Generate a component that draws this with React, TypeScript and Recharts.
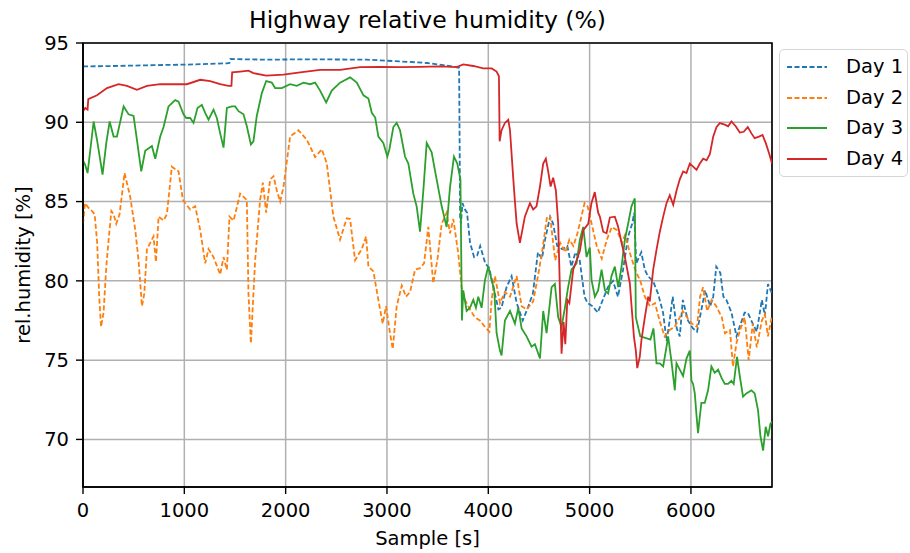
import React from "react";
import { LineChart, Line, XAxis, YAxis, CartesianGrid, ReferenceArea } from "recharts";

// [sample (s), relative humidity (%)]
const day1: number[][] = [
  [0, 93.52], [300, 93.55], [700, 93.6], [1100, 93.65], [1420, 93.72], [1445, 93.74], [1455, 93.99],
  [1800, 93.95], [2200, 93.97], [2800, 93.95], [3129, 93.84], [3392, 93.74], [3556, 93.6], [3655, 93.52],
  [3712, 93.43], [3722, 84.0], [3730, 83.6], [3745, 84.9], [3770, 84.5], [3790, 84.3], [3820, 82.4],
  [3860, 81.5], [3890, 81.6], [3920, 82.2], [3970, 81.1], [4010, 80.8], [4050, 79.6], [4100, 78.2],
  [4130, 78.3], [4180, 79.6], [4230, 80.3], [4280, 78.6], [4340, 77.5], [4390, 78.3], [4440, 79.2],
  [4490, 81.8], [4530, 81.4], [4560, 82.6], [4610, 84.05], [4640, 83.6], [4680, 82.2], [4730, 82.0],
  [4780, 82.2], [4820, 80.9], [4860, 81.8], [4900, 81.4], [4950, 79.0], [4980, 78.6], [5030, 78.4],
  [5080, 78.0], [5130, 78.8], [5180, 79.6], [5230, 80.0], [5280, 79.0], [5330, 80.7], [5380, 82.8],
  [5420, 83.6], [5440, 84.3], [5460, 81.1], [5510, 81.8], [5545, 80.7], [5575, 80.3], [5625, 80.0],
  [5675, 79.2], [5725, 78.0], [5760, 76.2], [5790, 77.5], [5820, 79.0], [5860, 77.0], [5890, 76.5],
  [5920, 78.8], [5970, 77.5], [6020, 77.0], [6060, 76.8], [6110, 78.4], [6140, 79.4], [6190, 78.4],
  [6220, 79.0], [6250, 80.9], [6290, 80.5], [6320, 79.0], [6350, 78.8], [6400, 78.0], [6450, 76.5],
  [6480, 77.1], [6530, 78.0], [6560, 78.0], [6610, 77.3], [6650, 76.8], [6700, 78.8], [6730, 77.8],
  [6760, 79.8], [6800, 79.2],
];

const day2: number[][] = [
  [0, 83.6], [20, 84.9], [55, 84.6], [90, 84.4], [115, 84.2], [140, 82.4], [160, 79.0], [178, 77.1],
  [203, 78.0], [230, 80.9], [253, 82.6], [280, 84.4], [302, 84.2], [328, 83.6], [361, 84.2], [410, 86.8],
  [466, 85.3], [516, 83.2], [548, 81.3], [582, 78.4], [605, 79.2], [631, 82.0], [664, 82.4], [696, 82.8],
  [720, 81.2], [746, 84.05], [795, 83.8], [828, 84.2], [877, 87.2], [943, 86.9], [986, 85.1], [1058, 84.5],
  [1107, 84.7], [1157, 83.2], [1206, 81.1], [1239, 82.0], [1288, 81.5], [1354, 80.4], [1387, 81.5],
  [1420, 80.7], [1446, 84.05], [1486, 83.8], [1551, 85.5], [1617, 85.1], [1633, 79.2], [1657, 76.06],
  [1699, 81.3], [1748, 85.1], [1775, 86.2], [1808, 84.3], [1847, 86.4], [1880, 86.6], [1913, 85.7],
  [1946, 85.0], [1978, 85.9], [2044, 89.1], [2126, 89.5], [2209, 88.9], [2291, 87.8], [2357, 88.3],
  [2406, 87.4], [2471, 84.05], [2537, 82.6], [2603, 83.95], [2636, 83.9], [2685, 81.3], [2751, 82.0],
  [2794, 82.8], [2817, 80.9], [2866, 80.6], [2915, 78.8], [2958, 77.3], [2991, 78.4], [3030, 76.7],
  [3057, 75.7], [3096, 78.4], [3146, 79.7], [3188, 79.0], [3228, 79.3], [3277, 80.7], [3326, 80.8],
  [3366, 81.1], [3408, 83.4], [3457, 79.85], [3497, 81.3], [3540, 83.6], [3589, 84.3], [3622, 83.0],
  [3655, 83.9], [3704, 81.7], [3737, 79.6], [3770, 78.8], [3819, 78.2], [3868, 77.7], [3917, 77.5],
  [3967, 77.1], [4010, 76.8], [4033, 78.8], [4066, 80.3], [4115, 78.6], [4164, 79.3], [4214, 79.0],
  [4280, 80.3], [4329, 78.4], [4378, 78.2], [4443, 78.7], [4490, 80.3], [4530, 81.8], [4580, 84.05],
  [4610, 84.05], [4660, 81.3], [4710, 82.4], [4760, 81.8], [4800, 82.6], [4840, 82.2], [4880, 83.0],
  [4950, 84.9], [4980, 84.7], [5020, 83.6], [5070, 82.2], [5120, 81.4], [5170, 82.6], [5220, 83.4],
  [5270, 83.2], [5320, 82.4], [5350, 82.9], [5400, 81.7], [5450, 80.7], [5500, 80.0], [5545, 79.0],
  [5595, 78.4], [5645, 78.6], [5690, 77.5], [5740, 76.5], [5790, 76.9], [5840, 77.1], [5890, 77.7],
  [5920, 78.1], [5960, 77.7], [6010, 77.3], [6060, 77.1], [6090, 79.0], [6120, 79.6], [6160, 78.1],
  [6205, 78.8], [6250, 78.4], [6305, 77.7], [6335, 76.7], [6385, 76.9], [6415, 74.6], [6450, 76.1],
  [6485, 76.9], [6530, 77.7], [6570, 75.0], [6610, 77.3], [6650, 75.8], [6700, 77.5], [6730, 77.9],
  [6760, 76.5], [6800, 77.8],
];

const day3: number[][] = [
  [0, 87.6], [22, 87.3], [45, 86.8], [105, 90.05], [138, 88.9], [193, 86.7], [230, 88.7], [263, 90.05],
  [302, 89.1], [335, 89.1], [401, 91.0], [450, 90.5], [499, 90.4], [532, 88.9], [575, 86.9], [614, 88.2],
  [680, 88.5], [713, 87.7], [762, 89.1], [795, 89.7], [844, 91.0], [910, 91.4], [943, 91.3], [992, 90.5],
  [1019, 90.27], [1058, 90.27], [1091, 89.96], [1130, 90.9], [1173, 91.1], [1206, 90.6], [1239, 90.16],
  [1288, 90.8], [1321, 90.27], [1354, 89.3], [1387, 88.4], [1420, 90.9], [1469, 91.0], [1502, 91.0],
  [1535, 90.7], [1584, 90.5], [1617, 89.75], [1657, 88.6], [1682, 88.8], [1715, 90.4], [1765, 91.84],
  [1808, 92.6], [1863, 92.5], [1896, 92.16], [1962, 92.16], [2044, 92.4], [2110, 92.3], [2176, 92.5],
  [2242, 92.4], [2291, 92.5], [2340, 92.0], [2400, 91.25], [2455, 92.0], [2537, 92.5], [2636, 92.83],
  [2702, 92.5], [2768, 91.7], [2817, 91.5], [2850, 90.6], [2884, 90.3], [2915, 89.1], [2964, 88.7],
  [3004, 87.84], [3024, 88.3], [3063, 89.7], [3096, 89.96], [3129, 89.5], [3178, 87.84], [3211, 87.4],
  [3260, 85.5], [3293, 84.7], [3326, 83.1], [3359, 85.7], [3392, 88.7], [3441, 88.1], [3490, 86.4],
  [3540, 84.7], [3589, 83.4], [3622, 85.9], [3661, 87.84], [3694, 87.4], [3725, 86.4], [3740, 77.5],
  [3753, 79.4], [3786, 78.1], [3819, 78.3], [3852, 78.8], [3878, 78.3], [3901, 79.0], [3934, 78.3],
  [3967, 80.05], [3999, 80.9], [4033, 80.05], [4059, 79.4], [4082, 76.7], [4115, 75.6], [4131, 75.3],
  [4164, 77.5], [4214, 78.1], [4263, 77.3], [4296, 78.3], [4329, 77.0], [4378, 76.5], [4427, 75.85],
  [4460, 76.0], [4510, 75.1], [4542, 78.1], [4575, 76.7], [4625, 79.6], [4657, 79.8], [4690, 77.7],
  [4723, 77.1], [4756, 78.3], [4788, 79.6], [4821, 80.7], [4871, 81.1], [4904, 82.6], [4937, 83.4],
  [4970, 81.5], [5002, 82.1], [5019, 80.05], [5052, 79.0], [5084, 79.4], [5118, 80.7], [5151, 79.4],
  [5183, 79.2], [5216, 80.3], [5249, 80.9], [5282, 79.6], [5315, 80.9], [5348, 82.6], [5380, 83.6],
  [5413, 84.7], [5446, 85.2], [5456, 77.7], [5500, 76.5], [5550, 76.4], [5600, 76.3], [5630, 77.0],
  [5660, 74.8], [5693, 74.8], [5726, 74.6], [5759, 75.85], [5775, 76.5], [5808, 74.9], [5841, 73.1],
  [5857, 74.8], [5890, 74.4], [5922, 74.0], [5956, 75.1], [5989, 75.6], [6005, 73.7], [6021, 73.5],
  [6038, 72.9], [6054, 71.6], [6070, 70.4], [6087, 71.4], [6103, 72.3], [6136, 72.3], [6169, 73.1],
  [6202, 74.6], [6235, 74.2], [6268, 74.4], [6301, 73.9], [6334, 73.5], [6366, 73.5], [6399, 73.7],
  [6422, 73.5], [6455, 75.2], [6482, 74.0], [6514, 72.7], [6547, 72.9], [6597, 73.1], [6629, 72.9],
  [6662, 71.85], [6686, 70.2], [6712, 69.3], [6738, 70.8], [6761, 70.2], [6785, 71.0], [6800, 71.1],
];

const day4: number[][] = [
  [0, 90.7], [22, 90.9], [45, 90.8], [52, 91.46], [138, 91.7], [237, 92.16], [351, 92.4], [434, 92.3],
  [532, 92.05], [631, 92.3], [762, 92.4], [893, 92.4], [1025, 92.4], [1157, 92.68], [1255, 92.6],
  [1354, 92.4], [1436, 92.3], [1465, 92.3], [1472, 93.15], [1551, 93.2], [1633, 93.26], [1682, 93.1],
  [1808, 92.94], [1978, 93.0], [2143, 93.15], [2340, 93.3], [2537, 93.3], [2735, 93.48], [2932, 93.5],
  [3129, 93.48], [3326, 93.5], [3524, 93.53], [3688, 93.48], [3753, 93.65], [3852, 93.55], [3950, 93.4],
  [4033, 93.4], [4082, 93.2], [4105, 92.9], [4112, 88.8], [4131, 89.5], [4164, 89.96], [4197, 90.16],
  [4214, 89.5], [4247, 86.4], [4263, 85.0], [4280, 83.6], [4312, 82.4], [4361, 84.05], [4411, 84.9],
  [4443, 84.5], [4476, 84.7], [4510, 85.95], [4542, 87.4], [4568, 87.7], [4591, 86.9], [4615, 85.95],
  [4640, 86.5], [4667, 85.7], [4690, 83.6], [4710, 78.6], [4723, 75.4], [4743, 77.4], [4760, 76.0],
  [4780, 78.8], [4800, 78.6], [4838, 80.7], [4871, 81.3], [4904, 81.9], [4937, 83.2], [4986, 83.6],
  [5018, 84.9], [5051, 85.6], [5084, 84.3], [5101, 84.05], [5134, 83.1], [5167, 83.0], [5200, 84.0],
  [5249, 84.05], [5282, 83.4], [5315, 82.4], [5348, 81.5], [5397, 79.85], [5414, 78.4], [5437, 76.5],
  [5456, 75.6], [5470, 74.5], [5495, 75.2], [5512, 76.3], [5545, 77.7], [5578, 79.0], [5594, 78.7],
  [5627, 80.7], [5660, 81.95], [5693, 83.1], [5726, 84.05], [5759, 84.9], [5791, 85.4], [5825, 84.8],
  [5858, 85.7], [5890, 86.4], [5923, 86.9], [5956, 86.8], [5989, 87.4], [6022, 87.2], [6055, 87.0],
  [6088, 87.4], [6121, 87.7], [6154, 87.6], [6187, 88.0], [6220, 89.1], [6253, 89.7], [6285, 89.95],
  [6334, 89.85], [6367, 89.75], [6400, 90.05], [6442, 89.75], [6482, 89.35], [6521, 89.4], [6561, 89.7],
  [6597, 89.3], [6629, 89.0], [6672, 89.1], [6706, 89.2], [6738, 88.7], [6771, 88.05], [6800, 87.4],
];

const seriesNames = ["Day 1", "Day 2", "Day 3", "Day 4"];
const seriesColors = ["#1f77b4", "#ff7f0e", "#2ca02c", "#d62728"];
const seriesDashed = [true, true, false, false];
const seriesValues = [day1, day2, day3, day4];

const xTicks = [0, 1000, 2000, 3000, 4000, 5000, 6000];
const yTicks = [70, 75, 80, 85, 90, 95];
const xDomain = [0, 6800];
const yDomain = [67, 95];

const title = "Highway relative humidity (%)";
const xLabel = "Sample [s]";
const yLabel = "rel.humidity [%]";

const FONT = "'DejaVu Sans', Verdana, sans-serif";
const DASH = "5 2.5";

const toRows = (pairs: number[][]) => pairs.map(([s, v]) => ({ s, v }));

export default function App() {
  const tickStyle = { fill: "#000", fontSize: 19.5, fontFamily: FONT };
  return (
    <div
      style={{
        position: "fixed",
        left: 0,
        top: 0,
        width: 910,
        height: 553,
        fontFamily: FONT,
        background: "#fff",
        overflow: "hidden",
      }}
    >
      <LineChart width={910} height={553} margin={{ top: 43, right: 138, bottom: 0, left: 0 }}>
        <CartesianGrid stroke="#b0b0b0" strokeWidth={1.5} horizontal vertical />
        <XAxis
          type="number"
          dataKey="s"
          domain={xDomain}
          ticks={xTicks}
          interval={0}
          allowDataOverflow
          height={66}
          tickSize={7}
          tickMargin={9}
          tick={tickStyle}
          axisLine={{ stroke: "#000", strokeWidth: 1.6 }}
          tickLine={{ stroke: "#000", strokeWidth: 1.4 }}
        />
        <YAxis
          type="number"
          domain={yDomain}
          ticks={yTicks}
          interval={0}
          allowDataOverflow
          width={83}
          tickSize={7}
          tickMargin={7}
          tick={tickStyle}
          axisLine={{ stroke: "#000", strokeWidth: 1.6 }}
          tickLine={{ stroke: "#000", strokeWidth: 1.4 }}
        />
        {seriesValues.map((vals, i) => (
          <Line
            key={seriesNames[i]}
            data={toRows(vals)}
            dataKey="v"
            name={seriesNames[i]}
            type="linear"
            stroke={seriesColors[i]}
            strokeWidth={1.8}
            strokeDasharray={seriesDashed[i] ? DASH : undefined}
            dot={false}
            activeDot={false}
            isAnimationActive={false}
          />
        ))}
        <ReferenceArea
          x1={xDomain[0]}
          x2={xDomain[1]}
          y1={yDomain[0]}
          y2={yDomain[1]}
          fill="none"
          fillOpacity={0}
          stroke="#000"
          strokeWidth={1.6}
          ifOverflow="visible"
        />
      </LineChart>

      <div
        style={{
          position: "absolute",
          left: 83,
          width: 689,
          top: 6,
          textAlign: "center",
          fontSize: 23.5,
          color: "#000",
          lineHeight: "28px",
        }}
      >
        {title}
      </div>
      <div
        style={{
          position: "absolute",
          left: 83,
          width: 689,
          top: 527,
          textAlign: "center",
          fontSize: 19.5,
          color: "#000",
          lineHeight: "24px",
        }}
      >
        {xLabel}
      </div>
      <div
        style={{
          position: "absolute",
          left: 24,
          top: 265,
          transform: "translate(-50%, -50%) rotate(-90deg)",
          whiteSpace: "nowrap",
          fontSize: 19.5,
          color: "#000",
          lineHeight: "24px",
        }}
      >
        {yLabel}
      </div>

      <div
        style={{
          position: "absolute",
          left: 779,
          top: 49,
          width: 129,
          height: 128,
          border: "1.5px solid #d5d5d5",
          borderRadius: 5,
          background: "#fff",
          boxSizing: "border-box",
        }}
      >
        {seriesNames.map((name, i) => (
          <div
            key={name}
            style={{
              position: "absolute",
              left: 0,
              top: 5 + i * 30.5,
              height: 24,
              display: "flex",
              alignItems: "center",
            }}
          >
            <svg width={60} height={24} style={{ display: "block" }}>
              <line
                x1={7}
                x2={47}
                y1={12}
                y2={12}
                stroke={seriesColors[i]}
                strokeWidth={1.8}
                strokeDasharray={seriesDashed[i] ? DASH : undefined}
              />
            </svg>
            <span style={{ fontSize: 19.5, color: "#000", marginLeft: 6, lineHeight: "24px", whiteSpace: "nowrap" }}>
              {name}
            </span>
          </div>
        ))}
      </div>
    </div>
  );
}
